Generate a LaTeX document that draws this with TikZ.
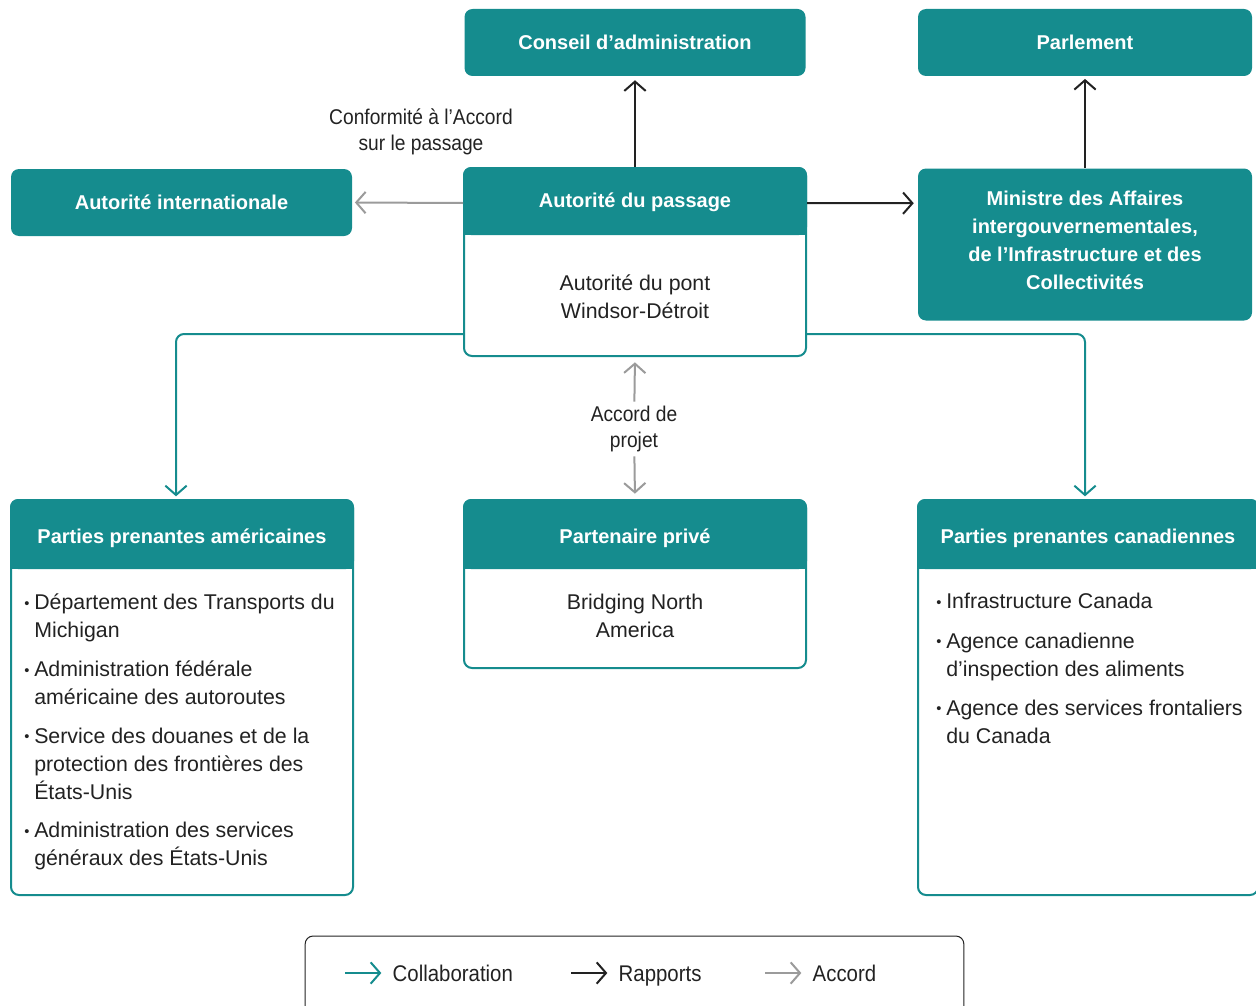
\documentclass[tikz,border=0pt]{standalone}
\usepackage{fontspec}
\setmainfont{Liberation Sans}
\newfontfamily\etroit[FakeStretch=0.9]{Liberation Sans}
\usetikzlibrary{positioning,calc,arrows.meta}
\definecolor{sarcelle}{RGB}{21,140,142}
\definecolor{encre}{RGB}{34,34,34}
\definecolor{gris}{RGB}{155,155,155}
\newcommand\puce{\makebox[7.5pt][l]{\fontsize{11}{11}\selectfont\raisebox{1.2pt}{•}}}
\newcommand\suite{\hspace*{7.5pt}}
\tikzset{
  boite/.style={draw=sarcelle, line width=1.5pt, fill=white, rounded corners=6pt, inner sep=0pt},
  plein/.style={fill=sarcelle, rounded corners=6pt, text=white, align=center,
    font=\bfseries\fontsize{15}{21}\selectfont, inner sep=0pt},
  titre/.style={text=white, font=\bfseries\fontsize{15}{21}\selectfont},
  corps/.style={text=encre, font=\fontsize{16}{21}\selectfont, align=center},
  liste/.style={text=encre, font=\fontsize{16}{21}\selectfont, align=left, anchor=north west, inner sep=0pt},
  note/.style={text=encre, font=\etroit\fontsize{16}{19}\selectfont, align=center},
  legende/.style={text=encre, font=\etroit\fontsize{17}{19}\selectfont, anchor=base west},
  tete/.style={line width=1.5pt, -{Straight Barb[length=7pt,width=16pt]}},
  rapport/.style={tete, draw=encre},
  collab/.style={tete, draw=sarcelle, rounded corners=6pt},
  accord/.style={tete, draw=gris},
}
\begin{document}
\begin{tikzpicture}[x=0.75pt, y=-0.75pt]
  \useasboundingbox (0,0) rectangle (1256,1006);

  % boites pleines
  \node[plein, minimum width=255.75pt, minimum height=50.25pt] (conseil) at (635,42.5) {Conseil d'administration};
  \node[plein, minimum width=250.5pt, minimum height=50.25pt] (parlement) at (1085,42.5) {Parlement};
  \node[plein, minimum width=255.75pt, minimum height=50.25pt] (intl) at (181.5,202.5) {Autorité internationale};
  \node[plein, minimum width=250.5pt, minimum height=114pt] (ministre) at (1085,244.5) {};
  \node[titre, align=center] (tministre) at (1085,240.5)
    {Ministre des Affaires\\intergouvernementales,\\de l'Infrastructure et des\\Collectivités};

  % boites avec en-tete
  \node[boite, minimum width=256.5pt, minimum height=141pt] (passage) at (635,262) {};
  \fill[sarcelle, rounded corners=6pt] (passage.north west) rectangle ($(passage.north east)+(0,68)$);
  \fill[sarcelle] ($(passage.north west)+(0,20)$) rectangle ($(passage.north east)+(0,68)$);
  \node[titre] (tpassage) at ($(passage.north)+(0,35)$) {Autorité du passage};
  \node[corps] (wdba) at (635,297) {Autorité du pont\\Windsor-Détroit};

  \node[boite, minimum width=256.5pt, minimum height=296.25pt] (us) at (182,697.5) {};
  \fill[sarcelle, rounded corners=6pt] (us.north west) rectangle ($(us.north east)+(0,70)$);
  \fill[sarcelle] ($(us.north west)+(0,20)$) rectangle ($(us.north east)+(0,70)$);
  \node[titre] (tus) at ($(us.north)+(0,39)$) {Parties prenantes américaines};
  \node[liste] (lus) at (24,594) {\puce Département des Transports du\\\suite Michigan\\[8pt]
    \puce Administration fédérale\\\suite américaine des autoroutes\\[8pt]
    \puce Service des douanes et de la\\\suite protection des frontières des\\\suite États-Unis\\[8pt]
    \puce Administration des services\\\suite généraux des États-Unis};

  \node[boite, minimum width=256.5pt, minimum height=126pt] (prive) at (635,584) {};
  \fill[sarcelle, rounded corners=6pt] (prive.north west) rectangle ($(prive.north east)+(0,70)$);
  \fill[sarcelle] ($(prive.north west)+(0,20)$) rectangle ($(prive.north east)+(0,70)$);
  \node[titre] (tprive) at ($(prive.north)+(0,39)$) {Partenaire privé};
  \node[corps] (bna) at (635,616) {Bridging North\\America};

  \node[boite, minimum width=255pt, minimum height=296.25pt] (ca) at (1088,697.5) {};
  \fill[sarcelle, rounded corners=6pt] (ca.north west) rectangle ($(ca.north east)+(0,70)$);
  \fill[sarcelle] ($(ca.north west)+(0,20)$) rectangle ($(ca.north east)+(0,70)$);
  \node[titre] (tca) at ($(ca.north)+(0,39)$) {Parties prenantes canadiennes};
  \node[liste] (lca) at (936,593) {\puce Infrastructure Canada\\[8.5pt]
    \puce Agence canadienne\\\suite d'inspection des aliments\\[8.5pt]
    \puce Agence des services frontaliers\\\suite du Canada};

  % liens
  \draw[rapport, shorten >=3pt] (passage.north) -- (conseil.south);
  \draw[rapport, shorten >=2pt] (ministre.north) -- (parlement.south);
  \draw[rapport, shorten >=3pt] ($(passage.north east)+(0,36)$) -- ($(ministre.north west)+(0,35)$);
  \draw[accord, shorten >=2pt] ($(passage.north west)+(0,36)$) -- (intl.east);
  \node[note] (conformite) at (421,132) {Conformité à l’Accord\\sur le passage};

  \draw[collab, shorten >=2pt] ($(passage.south west)+(0,-23)$) -| ($(us.north)+(-6,0)$);
  \draw[collab, shorten >=2pt] ($(passage.south east)+(0,-23)$) -| ($(ca.north)+(-3,0)$);

  \node[note] (projet) at (634,429) {Accord de\\projet};
  \draw[accord, shorten >=4pt] (projet) -- (passage.south);
  \draw[accord, shorten >=4pt] (projet) -- (prive.north);

  % legende
  \node[draw=encre, line width=0.75pt, rounded corners=6pt, minimum width=494pt, minimum height=60pt] (cadre) at (634.5,976) {};
  \node[legende] (lcollab) at (388,981) {Collaboration};
  \node[legende] (lrapport) at (614,981) {Rapports};
  \node[legende] (laccord) at (808,981) {Accord};
  \coordinate (dcollab) at (345,973);
  \coordinate (drapport) at (571,973);
  \coordinate (daccord) at (765,973);
  \draw[collab, shorten >=5pt] (dcollab) -- (dcollab -| lcollab.west);
  \draw[rapport, shorten >=5pt] (drapport) -- (drapport -| lrapport.west);
  \draw[accord, shorten >=5pt] (daccord) -- (daccord -| laccord.west);
\end{tikzpicture}
\end{document}
